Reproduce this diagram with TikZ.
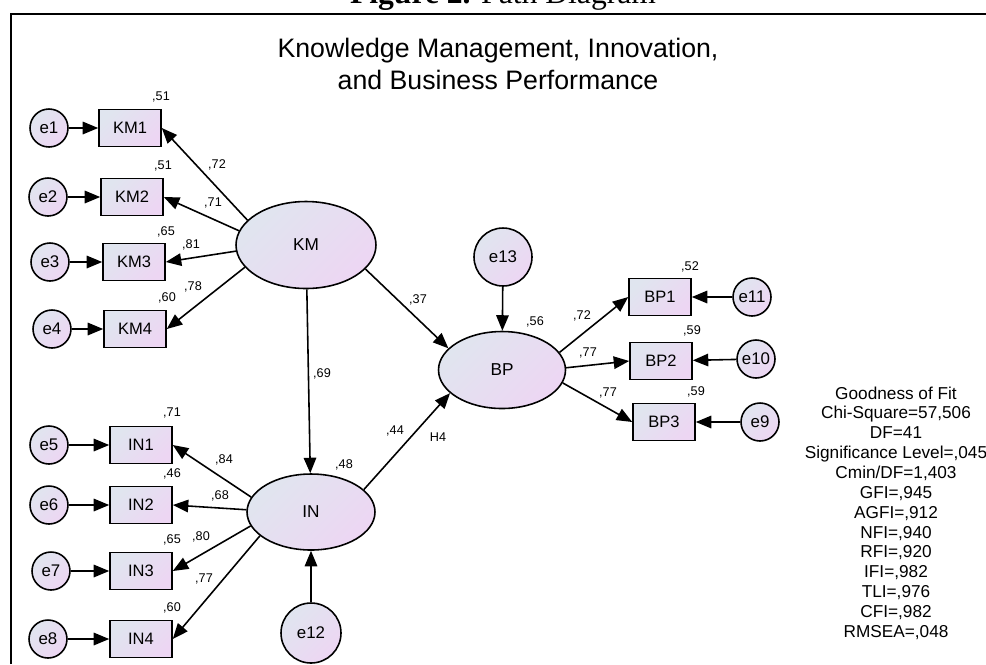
\documentclass[tikz,border=0pt]{standalone}
\usepackage{fontspec}
\setmainfont{Liberation Sans}
\newfontfamily\capfont{Liberation Serif}
\usepackage{tikz}
\usetikzlibrary{shapes,arrows.meta,positioning}
\definecolor{shadeL}{RGB}{224,229,239}
\definecolor{shadeR}{RGB}{237,214,243}

\begin{document}
\begin{tikzpicture}[x=0.02cm, y=-0.02cm,
    indicator/.style={draw, line width=0.9pt, rectangle, minimum width=1.24cm, minimum height=0.74cm, inner sep=0pt,
        top color=shadeL, bottom color=shadeR, shading angle=45, font=\fontsize{9.4}{11}\selectfont},
    errc/.style={draw, line width=0.9pt, circle, minimum size=0.76cm, inner sep=0pt,
        top color=shadeL, bottom color=shadeR, shading angle=45, font=\fontsize{9.6}{11}\selectfont},
    latent/.style={draw, line width=0.9pt, ellipse, inner sep=0pt,
        top color=shadeL, bottom color=shadeR, shading angle=45, font=\fontsize{9.8}{11}\selectfont},
    coef/.style={inner sep=0pt, font=\fontsize{7.2}{8}\selectfont},
    path/.style={line width=0.9pt, -{Triangle[length=3.1mm, width=2.5mm]}}]
    \useasboundingbox (0,0) rectangle (986,664);

    \node[anchor=base, font=\capfont\fontsize{18}{20}\selectfont] (caption) at (503,3) {\textbf{Figure 2.} Path Diagram};
    \draw[line width=0.9pt] (11,664) -- (11,14) -- (986,14);

    \node[anchor=base, font=\fontsize{15.2}{19}\selectfont] (title1) at (498,57) {Knowledge Management, Innovation,};
    \node[anchor=base, font=\fontsize{15.2}{19}\selectfont] (title2) at (498,89) {and Business Performance};

    % latent variables
    \node[latent, minimum width=2.8cm, minimum height=1.74cm] (KM) at (306,245) {KM};
    \node[latent, minimum width=2.56cm, minimum height=1.52cm] (IN) at (311,512) {IN};
    \node[latent, minimum width=2.54cm, minimum height=1.54cm] (BP) at (502,370) {BP};

    % indicators
    \foreach \n/\x/\y in {1/130/128, 2/132/197, 3/134/262, 4/135/329}
        \node[indicator] (KM\n) at (\x,\y) {KM\n};
    \foreach \n/\x/\y in {1/141/445, 2/141/505, 3/141/571, 4/141/639}
        \node[indicator] (IN\n) at (\x,\y) {IN\n};
    \foreach \n/\x/\y in {1/660/297, 2/661/361, 3/664/422}
        \node[indicator] (BP\n) at (\x,\y) {BP\n};

    % error terms
    \foreach \n/\x/\y in {1/49/128, 2/48/197, 3/50/262, 4/52/329, 5/49/445, 6/49/505, 7/51/571, 8/48/639, 9/760/422, 10/756/359, 11/752/297}
        \node[errc] (e\n) at (\x,\y) {e\n};
    \node[errc, minimum size=1.2cm] (e12) at (311,633) {e12};
    \node[errc, minimum size=1.16cm] (e13) at (503,257) {e13};

    % paths
    \foreach \i in {1,...,4} {
        \draw[path] (e\i) -- (KM\i);
        \draw[path] (e\the\numexpr\i+4\relax) -- (IN\i);
    }
    \draw[path] (e11) -- (BP1);
    \draw[path] (e10) -- (BP2);
    \draw[path] (e9) -- (BP3);
    \foreach \i/\a in {1/157, 2/168, 3/185, 4/200}
        \draw[path] (KM.\a) -- (KM\i.east);
    \foreach \i/\a in {1/166, 2/178, 3/193, 4/205}
        \draw[path] (IN.\a) -- (IN\i.east);
    \foreach \i/\a in {1/17, 2/2, 3/-12}
        \draw[path] (BP.\a) -- (BP\i.west);
    \draw[path] (KM) -- (IN);
    \draw[path] (KM.-22) -- (BP.158);
    \draw[path] (IN.23) -- (BP.204);
    \draw[path] (e12) -- (IN);
    \draw[path] (e13) -- (BP);

    % estimates
    \foreach \x/\y/\t [count=\k] in {161/97/{,51}, 217/165/{,72}, 163/166/{,51}, 213/203/{,71}, 166/232/{,65}, 191/245/{,81}, 167/298/{,60}, 193/287/{,78},
        172/413/{,71}, 224/460/{,84}, 172/474/{,46}, 220/496/{,68}, 172/540/{,65}, 201/537/{,80}, 204/579/{,77}, 172/608/{,60}, 344/465/{,48},
        322/374/{,69}, 418/300/{,37}, 395/431/{,44}, 438/437/{H4}, 535/322/{,56},
        690/267/{,52}, 582/316/{,72}, 692/331/{,59}, 588/353/{,77}, 608/393/{,77}, 696/392/{,59}}
        \node[coef] (est\k) at (\x,\y) {\t};

    \node[align=center, font=\fontsize{9.8}{11.3}\selectfont] (gof) at (896,513) {Goodness of Fit\\Chi-Square=57,506\\DF=41\\Significance Level=,045\\Cmin/DF=1,403\\GFI=,945\\AGFI=,912\\NFI=,940\\RFI=,920\\IFI=,982\\TLI=,976\\CFI=,982\\RMSEA=,048};
\end{tikzpicture}
\end{document}
